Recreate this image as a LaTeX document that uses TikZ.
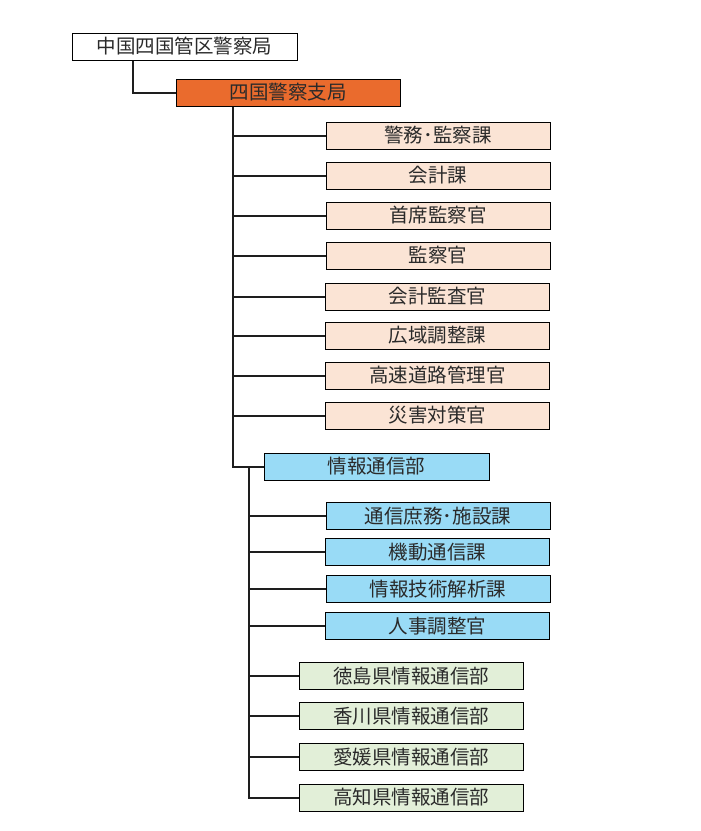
\documentclass[tikz,border=0pt]{standalone}
\usepackage{fontspec}
\newfontfamily\jp{Noto Sans CJK JP}
\definecolor{orangefill}{HTML}{EA6B2D}
\definecolor{peachfill}{HTML}{FBE4D5}
\definecolor{bluefill}{HTML}{99DBF6}
\definecolor{greenfill}{HTML}{E2EFD8}
\definecolor{linec}{HTML}{1E1E1E}
\definecolor{textc}{HTML}{2A2A2A}
\begin{document}
\begin{tikzpicture}[x=1pt,y=-1pt,
  orgbox/.style={draw=black, line width=1pt, minimum width=224pt, minimum height=27pt, inner sep=0pt,
    font=\jp\fontsize{19.5}{20}\selectfont, text=textc},
  conn/.style={draw=linec, line width=2pt}]
\useasboundingbox (0,0) rectangle (701,831);
% coordinates of the trunks
\coordinate (t0) at (133,0);
\coordinate (t1) at (233,0);
\coordinate (t2) at (249,0);
% nodes
\node[orgbox, fill=white, minimum width=225pt] (top) at (184.5,46.5) {中国四国管区警察局};
\node[orgbox, fill=orangefill] (hq) at (288,92.5) {四国警察支局};
\node[orgbox, fill=peachfill] (p1) at (438,135.5) {警務･監察課};
\node[orgbox, fill=peachfill] (p2) at (438,175.5) {会計課};
\node[orgbox, fill=peachfill] (p3) at (438,215.5) {首席監察官};
\node[orgbox, fill=peachfill] (p4) at (438,255.5) {監察官};
\node[orgbox, fill=peachfill] (p5) at (437.5,296.5) {会計監査官};
\node[orgbox, fill=peachfill] (p6) at (437.5,335.5) {広域調整課};
\node[orgbox, fill=peachfill] (p7) at (437.5,375.5) {高速道路管理官};
\node[orgbox, fill=peachfill] (p8) at (437.5,415.5) {災害対策官};
\node[orgbox, fill=bluefill, minimum width=225pt] (info) at (376.5,466.5) {情報通信部};
\node[orgbox, fill=bluefill] (b1) at (438,516) {通信庶務･施設課};
\node[orgbox, fill=bluefill] (b2) at (437.5,552) {機動通信課};
\node[orgbox, fill=bluefill] (b3) at (438,589) {情報技術解析課};
\node[orgbox, fill=bluefill] (b4) at (437.5,626) {人事調整官};
\node[orgbox, fill=greenfill] (g1) at (411,676) {徳島県情報通信部};
\node[orgbox, fill=greenfill] (g2) at (411,716) {香川県情報通信部};
\node[orgbox, fill=greenfill] (g3) at (411,757) {愛媛県情報通信部};
\node[orgbox, fill=greenfill] (g4) at (411,797.5) {高知県情報通信部};
% connectors
\draw[conn] (top.south -| t0) |- (hq.west);
\draw[conn] (hq.south -| t1) |- (info.west);
\foreach \n in {p1,p2,p3,p4,p5,p6,p7,p8}{
  \draw[conn] (\n.west -| t1) -- (\n.west);
}
\draw[conn] (info.west -| t2) |- (g4.west);
\foreach \n in {b1,b2,b3,b4,g1,g2,g3}{
  \draw[conn] (\n.west -| t2) -- (\n.west);
}
\end{tikzpicture}
\end{document}
